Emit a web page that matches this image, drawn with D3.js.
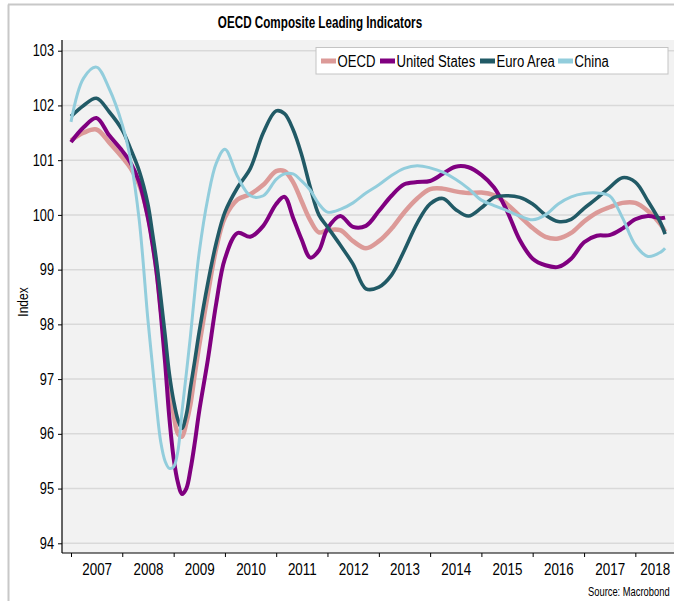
<!DOCTYPE html>
<html>
<head>
<meta charset="utf-8">
<script src="https://cdn.jsdelivr.net/npm/d3@7"></script>
<style>
  body { margin: 0; background: #fff; }
  svg { display: block; font-family: "Liberation Sans", Arial, sans-serif; }
</style>
</head>
<body>
<svg id="chart" width="674" height="601"></svg>
<script>
// sample months (shared by all four series)
var months = ["2007-01","2007-04","2007-07","2007-10","2008-01","2008-03","2008-05","2008-07","2008-08","2008-09",
  "2008-10","2008-11","2008-12","2009-01","2009-02","2009-03","2009-04","2009-05","2009-06","2009-07",
  "2009-09","2009-11","2010-01","2010-04","2010-07","2010-10","2011-01","2011-03","2011-05","2011-07",
  "2011-09","2011-11","2012-01","2012-04","2012-07","2012-10","2013-01","2013-04","2013-07","2013-10",
  "2014-01","2014-04","2014-07","2014-10","2015-01","2015-04","2015-07","2015-10","2016-01","2016-04",
  "2016-07","2016-10","2017-01","2017-04","2017-07","2017-10","2018-01","2018-04","2018-07","2018-08"];

var oecd = [101.36,101.5,101.56,101.32,101.05,100.85,100.55,100.0,99.55,99.0,
  98.3,97.6,96.85,96.35,96.0,95.95,96.2,96.55,97.1,97.6,
  98.55,99.4,99.95,100.28,100.38,100.55,100.8,100.8,100.6,100.25,
  99.9,99.68,99.72,99.72,99.52,99.39,99.52,99.75,100.05,100.3,
  100.47,100.48,100.43,100.4,100.41,100.36,100.2,99.98,99.76,99.6,
  99.57,99.67,99.88,100.04,100.14,100.22,100.22,100.07,99.82,99.69];

var unitedStates = [101.33,101.6,101.77,101.45,101.17,100.95,100.6,99.95,99.5,98.95,
  98.2,97.3,96.3,95.55,95.1,94.9,95.0,95.35,95.85,96.4,
  97.35,98.4,99.2,99.67,99.6,99.8,100.2,100.33,99.95,99.55,
  99.22,99.35,99.75,99.98,99.78,99.8,100.07,100.35,100.56,100.6,
  100.62,100.75,100.88,100.87,100.73,100.5,100.08,99.54,99.2,99.08,
  99.05,99.2,99.5,99.62,99.63,99.75,99.92,99.98,99.94,99.95];

var euroArea = [101.8,102.0,102.13,101.88,101.55,101.2,100.8,100.2,99.7,99.15,
  98.5,97.8,97.1,96.6,96.25,96.1,96.35,96.85,97.35,97.85,
  98.75,99.5,100.05,100.5,100.85,101.5,101.9,101.85,101.56,101.1,
  100.5,100.0,99.78,99.45,99.1,98.65,98.68,98.9,99.35,99.85,
  100.2,100.3,100.1,99.98,100.13,100.32,100.35,100.32,100.2,100.0,
  99.88,99.92,100.12,100.3,100.5,100.68,100.6,100.25,99.85,99.65];

var china = [101.7,102.5,102.7,102.3,101.65,101.0,99.9,98.1,97.3,96.5,
  95.85,95.5,95.37,95.4,95.7,96.4,97.1,97.8,98.6,99.3,
  100.3,100.95,101.2,100.7,100.35,100.35,100.65,100.75,100.75,100.62,
  100.45,100.2,100.05,100.1,100.22,100.4,100.55,100.72,100.85,100.9,
  100.86,100.78,100.65,100.48,100.27,100.17,100.08,99.98,99.91,100.0,
  100.2,100.33,100.39,100.4,100.35,99.95,99.45,99.24,99.32,99.39];

var seriesNames = ["OECD", "United States", "Euro Area", "China"];
var seriesColors = ["#dc9a98", "#800080", "#215a66", "#92cddc"];
var seriesWidths = [4.5, 4, 3.6, 3];
var yTicks = [94, 95, 96, 97, 98, 99, 100, 101, 102, 103];
var years = [2007, 2008, 2009, 2010, 2011, 2012, 2013, 2014, 2015, 2016, 2017, 2018];

var svg = d3.select("#chart");
var parse = d3.timeParse("%Y-%m");
var dates = months.map(parse);
var allSeries = [oecd, unitedStates, euroArea, china];

var plotL = 62, plotT = 40, plotB = 553, plotR = 674;

var x = d3.scaleTime()
  .domain([new Date(2007, 0, 1), new Date(2019, 0, 1)])
  .range([71, 686.6]);
var y = d3.scaleLinear().domain([94, 103]).range([543.3, 50.7]);

// the picture uses a narrow face; squeeze text horizontally around its own x
function narrow(sel, k) {
  sel.each(function() {
    var t = d3.select(this), x0 = +t.attr("x") || 0;
    t.attr("x", x0 / k).attr("transform", "scale(" + k + ",1)");
  });
}

// outer frame
svg.append("line").attr("x1", 8.5).attr("x2", 8.5).attr("y1", 4.5).attr("y2", 601)
  .attr("stroke", "#c8c8c8").attr("stroke-width", 2);
svg.append("line").attr("x1", 8).attr("x2", 674).attr("y1", 4.5).attr("y2", 4.5)
  .attr("stroke", "#c8c8c8").attr("stroke-width", 2);

// title
svg.append("text").attr("x", 320).attr("y", 28).attr("text-anchor", "middle")
  .style("font-size", "16px").style("font-weight", "bold")
  .text("OECD Composite Leading Indicators")
  .call(narrow, 0.73);

// plot background
svg.append("rect").attr("x", plotL).attr("y", plotT)
  .attr("width", plotR - plotL).attr("height", plotB - plotT).attr("fill", "#f2f2f2");

// gridlines
svg.append("g").selectAll("line").data(yTicks).enter().append("line")
  .attr("x1", plotL).attr("x2", plotR)
  .attr("y1", function(d) { return y(d); }).attr("y2", function(d) { return y(d); })
  .attr("stroke", "#d9d9d9").attr("stroke-width", 1.5);

// y axis
var yAxis = svg.append("g").attr("transform", "translate(" + plotL + ",0)")
  .call(d3.axisLeft(y).tickValues(yTicks).tickSize(4).tickSizeOuter(0).tickFormat(d3.format("d")));
yAxis.select(".domain").remove();
yAxis.selectAll("text").style("font-size", "16px").attr("fill", "#000").attr("x", -8).call(narrow, 0.8);
yAxis.selectAll("line").attr("stroke", "#000");
svg.append("line").attr("x1", plotL).attr("x2", plotL).attr("y1", plotT).attr("y2", plotB)
  .attr("stroke", "#000").attr("stroke-width", 1.2);

svg.append("text").attr("transform", "translate(28,302) rotate(-90) scale(0.8,1)")
  .attr("text-anchor", "middle").style("font-size", "15px").text("Index");

// x axis: ticks at year boundaries, labels centred in the visible part of each year
var yearStarts = years.map(function(d) { return new Date(d, 0, 1); });
var xAxis = svg.append("g").attr("transform", "translate(0," + plotB + ")")
  .call(d3.axisBottom(x).tickValues(yearStarts).tickSize(4).tickFormat(""));
xAxis.select(".domain").remove();
xAxis.selectAll("line").attr("stroke", "#000");

var labelDates = years.map(function(d) {
  var a = x(new Date(d, 0, 1)), b = Math.min(x(new Date(d + 1, 0, 1)), plotR);
  return x.invert((a + b) / 2);
});
var xLabels = svg.append("g").attr("transform", "translate(0," + plotB + ")")
  .call(d3.axisBottom(x).tickValues(labelDates).tickSize(0).tickFormat(d3.timeFormat("%Y")));
xLabels.select(".domain").remove();
xLabels.selectAll("text").style("font-size", "16px").attr("fill", "#000").attr("dy", "0").attr("y", 22)
  .call(narrow, 0.84);

svg.append("line").attr("x1", plotL).attr("x2", plotR).attr("y1", plotB).attr("y2", plotB)
  .attr("stroke", "#000").attr("stroke-width", 1.2);

// lines
var line = d3.line()
  .x(function(d, i) { return x(dates[i]); })
  .y(function(d) { return y(d); })
  .curve(d3.curveCatmullRom.alpha(0.5));

svg.append("g").selectAll("path").data(allSeries).enter().append("path")
  .attr("d", line)
  .attr("fill", "none")
  .attr("stroke", function(d, i) { return seriesColors[i]; })
  .attr("stroke-width", function(d, i) { return seriesWidths[i]; })
  .attr("stroke-linejoin", "round");

// legend
var legend = svg.append("g");
legend.append("rect").attr("x", 316).attr("y", 47.5).attr("width", 352).attr("height", 26.5)
  .attr("fill", "#fff").attr("stroke", "#c4c4c4");
var legendX = [321, 380, 480, 558];
var items = legend.selectAll("g.item").data(seriesNames).enter().append("g")
  .attr("transform", function(d, i) { return "translate(" + legendX[i] + ",61)"; });
items.append("rect").attr("x", 0).attr("y", -2.5).attr("width", 15).attr("height", 5)
  .attr("fill", function(d, i) { return seriesColors[i]; });
items.append("text").attr("x", 16.5).attr("y", 6).style("font-size", "16px")
  .text(function(d) { return d; })
  .call(narrow, 0.82);

// source
svg.append("text").attr("x", 588).attr("y", 596).style("font-size", "12px")
  .text("Source: Macrobond")
  .call(narrow, 0.78);
</script>
</body>
</html>
